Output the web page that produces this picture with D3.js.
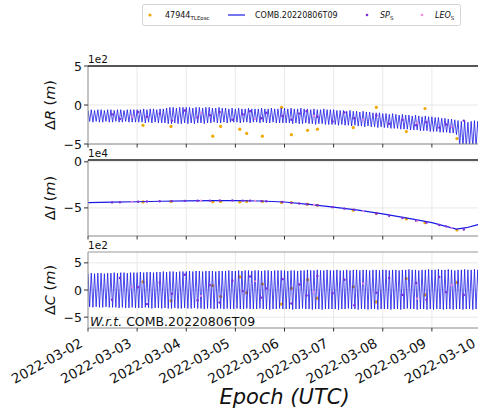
<!DOCTYPE html>
<head>
<meta charset="utf-8">
<title>Orbit differences w.r.t. COMB</title>
<script src="https://d3js.org/d3.v7.min.js"></script>
<style>
body { margin: 0; background: #fff; }
text { font-family: "DejaVu Sans", sans-serif; fill: #111; }
</style>
</head>
<body>
<div id="container"></div>
<script>
//---------------------------DATA-------------------------------//
// all epochs are in days since 2022-03-02 00:00 UTC
const dayTicks = ["2022-03-02","2022-03-03","2022-03-04","2022-03-05","2022-03-06",
                  "2022-03-07","2022-03-08","2022-03-09","2022-03-10"];
const orbitsPerDay = 15;

// COMB.20220806T09 radial difference, one max and one min per revolution (x1e2 m)
const combRTop = [
 -0.7,-0.6,-0.7,-0.6,-0.6,-0.7,-0.6,-0.6,-0.7,-0.6,-0.6,-0.7,-0.6,-0.6,-0.6,
 -0.6,-0.6,-0.5,-0.6,-0.5,-0.5,-0.6,-0.5,-0.5,-0.4,-0.3,-0.3,-0.4,-0.3,-0.3,
 -0.3,-0.3,-0.4,-0.3,-0.3,-0.4,-0.3,-0.3,-0.4,-0.4,-0.3,-0.4,-0.4,-0.5,-0.4,
 -0.5,-0.4,-0.5,-0.5,-0.4,-0.5,-0.5,-0.5,-0.4,-0.5,-0.5,-0.4,-0.5,-0.5,-0.4,
 -0.4,-0.5,-0.4,-0.5,-0.5,-0.4,-0.5,-0.5,-0.6,-0.5,-0.6,-0.6,-0.5,-0.6,-0.6,
 -0.6,-0.7,-0.7,-0.7,-0.8,-0.7,-0.8,-0.8,-0.9,-0.8,-0.9,-0.9,-1.0,-1.0,-1.0,
 -1.1,-1.1,-1.2,-1.1,-1.2,-1.3,-1.2,-1.3,-1.3,-1.4,-1.3,-1.4,-1.5,-1.4,-1.5,
 -1.5,-1.6,-1.6,-1.7,-1.7,-1.8,-1.8,-1.9,-2.0,-2.1,-2.0,-2.2,-2.1,-2.0,-2.1];
const combRBot = [
 -2.1,-2.2,-2.1,-2.2,-2.2,-2.1,-2.2,-2.2,-2.1,-2.2,-2.2,-2.1,-2.2,-2.2,-2.2,
 -2.2,-2.2,-2.3,-2.2,-2.3,-2.2,-2.3,-2.3,-2.3,-2.4,-2.4,-2.3,-2.4,-2.4,-2.3,
 -2.4,-2.3,-2.4,-2.3,-2.3,-2.4,-2.3,-2.3,-2.2,-2.3,-2.3,-2.2,-2.3,-2.2,-2.2,
 -2.2,-2.3,-2.2,-2.2,-2.3,-2.2,-2.2,-2.3,-2.2,-2.3,-2.3,-2.2,-2.3,-2.3,-2.3,
 -2.3,-2.3,-2.4,-2.3,-2.4,-2.4,-2.3,-2.4,-2.4,-2.5,-2.4,-2.4,-2.5,-2.5,-2.5,
 -2.5,-2.6,-2.5,-2.6,-2.6,-2.7,-2.6,-2.7,-2.7,-2.8,-2.7,-2.8,-2.8,-2.9,-2.8,
 -2.9,-2.9,-3.0,-3.0,-3.0,-3.1,-3.1,-3.1,-3.2,-3.2,-3.2,-3.3,-3.3,-3.3,-3.4,
 -3.4,-3.4,-3.5,-3.5,-3.5,-3.6,-3.6,-3.8,-5.2,-5.3,-5.4,-5.3,-5.4,-5.4,-5.3];

// cross-track difference, one max and one min per revolution (x1e2 m)
const combCTop = [
 3.0,3.1,3.0,3.1,3.1,3.0,3.1,3.1,3.2,3.1,3.2,3.2,3.1,3.2,3.2,
 3.2,3.3,3.2,3.3,3.3,3.2,3.3,3.3,3.4,3.3,3.4,3.4,3.3,3.4,3.4,
 3.4,3.5,3.4,3.5,3.5,3.4,3.5,3.5,3.5,3.4,3.5,3.5,3.5,3.6,3.5,
 3.5,3.6,3.5,3.6,3.6,3.5,3.6,3.6,3.5,3.6,3.6,3.5,3.6,3.6,3.6,
 3.6,3.5,3.6,3.6,3.5,3.6,3.6,3.7,3.6,3.6,3.7,3.6,3.6,3.7,3.6,
 3.6,3.7,3.6,3.6,3.7,3.6,3.7,3.7,3.6,3.7,3.7,3.6,3.7,3.7,3.6,
 3.7,3.7,3.6,3.7,3.7,3.6,3.7,3.7,3.8,3.7,3.7,3.6,3.7,3.7,3.8,
 3.7,3.7,3.8,3.7,3.7,3.8,3.7,3.6,3.7,3.7,3.8,3.7,3.7,3.8,3.7];
const combCBot = [
 -3.1,-3.2,-3.1,-3.2,-3.2,-3.1,-3.2,-3.2,-3.2,-3.3,-3.2,-3.3,-3.3,-3.2,-3.3,
 -3.3,-3.3,-3.2,-3.3,-3.4,-3.3,-3.3,-3.4,-3.3,-3.4,-3.4,-3.3,-3.4,-3.4,-3.3,
 -3.4,-3.4,-3.3,-3.4,-3.4,-3.5,-3.4,-3.4,-3.5,-3.4,-3.4,-3.5,-3.4,-3.5,-3.5,
 -3.4,-3.5,-3.5,-3.4,-3.5,-3.5,-3.5,-3.4,-3.5,-3.5,-3.6,-3.5,-3.5,-3.4,-3.5,
 -3.5,-3.5,-3.6,-3.5,-3.5,-3.4,-3.5,-3.5,-3.6,-3.5,-3.5,-3.6,-3.5,-3.5,-3.5,
 -3.5,-3.6,-3.5,-3.5,-3.4,-3.5,-3.5,-3.6,-3.5,-3.5,-3.6,-3.5,-3.5,-3.6,-3.5,
 -3.5,-3.5,-3.6,-3.5,-3.5,-3.6,-3.5,-3.4,-3.5,-3.5,-3.6,-3.5,-3.5,-3.6,-3.5,
 -3.6,-3.5,-3.5,-3.6,-3.5,-3.5,-3.6,-3.5,-3.5,-3.6,-3.5,-3.5,-3.6,-3.5,-3.5];

// along-track difference (x1e4 m)
const combIDays = [0, 0.5, 1, 1.5, 2, 2.5, 3, 3.5, 4, 4.5, 5, 5.5, 6, 6.5, 7, 7.25, 7.5, 7.7, 7.92, 8];
const combI     = [-4.42,-4.38,-4.33,-4.28,-4.23,-4.21,-4.2,-4.25,-4.36,-4.62,-4.92,-5.25,-5.65,-6.1,-6.6,-6.95,-7.3,-7.15,-6.85,-6.75];

// 47944 TLE (osculating)
const tleDays = [1.12, 1.69, 2.54, 2.70, 3.09, 3.23, 3.55, 3.94, 4.14, 4.47, 4.67, 5.40, 5.87, 6.48, 6.86, 7.51];
const tleR    = [-2.6,-2.75,-4.0,-2.75,-3.1,-3.65,-4.0,-0.3,-3.8,-3.25,-3.1,-2.9,-0.3,-3.4,-0.45,-4.3];
const tleI    = [-4.35,-4.3,-4.32,-4.3,-4.35,-4.3,-4.3,-4.4,-4.42,-4.6,-4.72,-5.25,-5.6,-6.2,-6.6,-7.4];
const tleC    = [1.5,-2.0,0.8,-1.2,2.4,-0.5,1.1,-2.6,0.3,1.9,-1.5,0.6,-2.2,2.1,-0.9,1.4];

// SP3 samples
const spDays = [0.49,0.65,1.02,1.20,1.46,1.71,1.97,2.23,2.48,2.68,2.94,3.15,3.30,3.53,3.63,3.96,
                4.14,4.30,4.45,4.67,4.98,5.22,5.42,5.87,6.13,6.40,6.68,6.89,7.15,7.29,7.65];
const spR    = [-1.2,-1.8,-0.9,-1.5,-1.1,-2.0,-0.7,-1.6,-1.3,-0.9,-1.9,-1.2,-0.8,-1.7,-1.0,-1.4,
                -1.9,-1.1,-0.8,-1.5,-2.1,-0.95,-1.7,-1.3,-2.4,-1.9,-2.6,-2.2,-2.9,-2.5,-2.0];
const spI    = [-4.4,-4.38,-4.33,-4.31,-4.28,-4.26,-4.24,-4.22,-4.21,-4.2,-4.2,-4.21,-4.23,-4.26,-4.27,-4.36,
                -4.45,-4.52,-4.6,-4.72,-4.92,-5.08,-5.2,-5.6,-5.85,-6.1,-6.4,-6.6,-6.85,-7.0,-7.35];
const spC    = [-1.8,2.2,0.5,-2.6,1.4,-0.7,2.8,-1.9,0.9,-2.3,1.7,-0.2,2.5,-1.4,0.3,2.0,
                -2.5,1.0,-1.0,2.6,-0.6,1.9,-2.8,-0.5,2.2,-0.9,1.3,-1.8,2.4,-0.4,-0.9];

// LEO samples
const leoDays = [0.9, 2.3, 3.4, 4.6, 5.6, 6.7, 7.4];
const leoR    = [-1.5,-1.0,-1.8,-1.4,-1.9,-2.3,-2.8];
const leoI    = [-4.35,-4.22,-4.23,-4.68,-5.35,-6.45,-7.2];
const leoC    = [0.6,-1.1,1.6,-0.4,1.2,-1.6,0.9];

//---------------------------SVG--------------------------------//
const width = 478, height = 411;
const svg = d3.select("#container").append("svg")
    .attr("width", width).attr("height", height);

const t0 = Date.UTC(2022, 2, 2);
const toDate = d => new Date(t0 + d * 86400000);
const xScale = d3.scaleUtc()
    .domain([toDate(0), toDate(8)])
    .range([88, 481]);

const zig = (tops, bots) => tops.flatMap((v, i) => [
    {t: i / orbitsPerDay, v: v},
    {t: (i + 0.5) / orbitsPerDay, v: bots[i]}]);

const panels = [
  {id: "R", top: 66,  bottom: 144, domain: [-5, 5],       ticks: [-5, 0, 5], offset: "1e2",
   line: zig(combRTop, combRBot), tle: tleR, sp: spR, leo: leoR, strongTop: true},
  {id: "I", top: 160, bottom: 236, domain: [-8.05, 0.2],  ticks: [-5, 0],    offset: "1e4",
   line: combIDays.map((d, i) => ({t: d, v: combI[i]})), tle: tleI, sp: spI, leo: leoI, strongTop: true},
  {id: "C", top: 252, bottom: 328, domain: [-7, 7],       ticks: [-5, 0, 5], offset: "1e2",
   line: zig(combCTop, combCBot), tle: tleC, sp: spC, leo: leoC, strongTop: false}
];

const fmt = v => v < 0 ? "\u2212" + Math.abs(v) : "" + v;
const dayX = d => xScale(new Date(d + "T00:00:00Z"));

panels.forEach(p => {
  const yScale = d3.scaleLinear().domain(p.domain).range([p.bottom, p.top]);
  const g = svg.append("g");
  const x0 = xScale.range()[0], x1 = xScale.range()[1];

  // clip
  g.append("clipPath").attr("id", "clip" + p.id)
    .append("rect").attr("x", x0).attr("y", p.top)
    .attr("width", x1 - x0).attr("height", p.bottom - p.top);

  // grid
  g.selectAll(".vgrid").data(dayTicks.slice(1)).join("line")
    .attr("x1", dayX).attr("x2", dayX)
    .attr("y1", p.top).attr("y2", p.bottom)
    .attr("stroke", "#e3e3e3").attr("stroke-width", 0.8);
  g.selectAll(".hgrid").data(p.ticks).join("line")
    .attr("x1", x0).attr("x2", x1)
    .attr("y1", d => yScale(d)).attr("y2", d => yScale(d))
    .attr("stroke", "#e3e3e3").attr("stroke-width", 0.8);

  const plot = g.append("g").attr("clip-path", "url(#clip" + p.id + ")");

  const line = d3.line()
    .x(d => xScale(toDate(d.t)))
    .y(d => yScale(d.v));

  // TLE first, then the COMB line over it, then SP and LEO
  plot.selectAll(".tle").data(tleDays).join("circle")
    .attr("cx", d => xScale(toDate(d)))
    .attr("cy", (d, i) => yScale(p.tle[i]))
    .attr("r", 1.6).attr("fill", "#f0a800");

  plot.append("path")
    .attr("d", line(p.line))
    .attr("fill", "none")
    .attr("stroke", "#1a1ae6")
    .attr("stroke-width", p.id === "I" ? 1.2 : 0.8);

  plot.selectAll(".sp").data(spDays).join("circle")
    .attr("cx", d => xScale(toDate(d)))
    .attr("cy", (d, i) => yScale(p.sp[i]))
    .attr("r", 1.2).attr("fill", "#7b2fd8");
  plot.selectAll(".leo").data(leoDays).join("circle")
    .attr("cx", d => xScale(toDate(d)))
    .attr("cy", (d, i) => yScale(p.leo[i]))
    .attr("r", 1.1).attr("fill", "#f08ce0");

  // spines
  g.append("line").attr("x1", x0).attr("x2", x1).attr("y1", p.bottom).attr("y2", p.bottom)
    .attr("stroke", "#888").attr("stroke-width", 1);
  g.append("line").attr("x1", x0).attr("x2", x0).attr("y1", p.top).attr("y2", p.bottom)
    .attr("stroke", "#888").attr("stroke-width", 1);
  g.append("line").attr("x1", x0).attr("x2", x1).attr("y1", p.top).attr("y2", p.top)
    .attr("stroke", p.strongTop ? "#222" : "#999").attr("stroke-width", p.strongTop ? 1.4 : 1);

  // y axis ticks
  g.selectAll(".ytick").data(p.ticks).join("line")
    .attr("x1", x0 - 4).attr("x2", x0)
    .attr("y1", d => yScale(d)).attr("y2", d => yScale(d))
    .attr("stroke", "#333");
  g.selectAll(".ylab").data(p.ticks).join("text")
    .attr("x", x0 - 6).attr("y", d => yScale(d))
    .attr("dy", "0.36em")
    .attr("text-anchor", "end")
    .style("font-size", "12.5px")
    .text(fmt);

  // x axis tick marks
  g.selectAll(".xtick").data(dayTicks).join("line")
    .attr("x1", dayX).attr("x2", dayX)
    .attr("y1", p.bottom).attr("y2", p.bottom + 3.5)
    .attr("stroke", "#333");

  // offset text
  g.append("text").attr("x", x0).attr("y", p.top - 3)
    .style("font-size", "10.5px").text(p.offset);

  // y label
  const yl = g.append("text")
    .attr("transform", "translate(55," + ((p.top + p.bottom) / 2) + ") rotate(-90)")
    .attr("text-anchor", "middle")
    .style("font-size", "14.5px");
  yl.append("tspan").text("\u0394");
  yl.append("tspan").style("font-style", "italic").text(p.id);
  yl.append("tspan").text(" (");
  yl.append("tspan").style("font-style", "italic").text("m");
  yl.append("tspan").text(")");
});

// x tick labels under the last panel
const lastBottom = panels[2].bottom;
svg.selectAll(".xlab").data(dayTicks).join("text")
  .attr("transform", d => "translate(" + (dayX(d) - 4.5) + "," + (lastBottom + 18) + ") rotate(-29)")
  .attr("text-anchor", "end")
  .style("font-size", "13.5px")
  .text(d => d);

svg.append("text")
  .attr("x", (xScale.range()[0] + xScale.range()[1]) / 2)
  .attr("y", 404)
  .attr("text-anchor", "middle")
  .style("font-size", "21px")
  .style("font-style", "italic")
  .text("Epoch (UTC)");

// reference note
const wrt = svg.append("text").attr("x", 90).attr("y", 326).style("font-size", "12.5px");
wrt.append("tspan").style("font-style", "italic").text("W.r.t.");
wrt.append("tspan").text(" COMB.20220806T09");

//---------------------------LEGEND-----------------------------//
const leg = svg.append("g");
leg.append("rect").attr("x", 142.5).attr("y", 4.5).attr("width", 318).attr("height", 21)
  .attr("rx", 2).attr("fill", "#fff").attr("stroke", "#d4d4d4");
const ly = 15;
leg.append("circle").attr("cx", 150).attr("cy", ly).attr("r", 1.6).attr("fill", "#f0a800");
const l1 = leg.append("text").attr("x", 165).attr("y", ly + 3).style("font-size", "8px");
l1.append("tspan").text("47944");
l1.append("tspan").attr("dy", 1.5).style("font-size", "5.5px").text("TLEosc");
leg.append("line").attr("x1", 228).attr("x2", 245).attr("y1", ly).attr("y2", ly)
  .attr("stroke", "#1a1ae6").attr("stroke-width", 1.2);
leg.append("text").attr("x", 255).attr("y", ly + 3).style("font-size", "8px").text("COMB.20220806T09");
leg.append("circle").attr("cx", 367).attr("cy", ly).attr("r", 1.3).attr("fill", "#7b2fd8");
const l3 = leg.append("text").attr("x", 380).attr("y", ly + 3).style("font-size", "8px");
l3.append("tspan").style("font-style", "italic").text("SP");
l3.append("tspan").attr("dy", 1.5).style("font-size", "5.5px").text("S");
leg.append("circle").attr("cx", 422).attr("cy", ly).attr("r", 1.3).attr("fill", "#f08ce0");
const l4 = leg.append("text").attr("x", 435).attr("y", ly + 3).style("font-size", "8px");
l4.append("tspan").style("font-style", "italic").text("LEO");
l4.append("tspan").attr("dy", 1.5).style("font-size", "5.5px").text("S");
</script>
</body>
